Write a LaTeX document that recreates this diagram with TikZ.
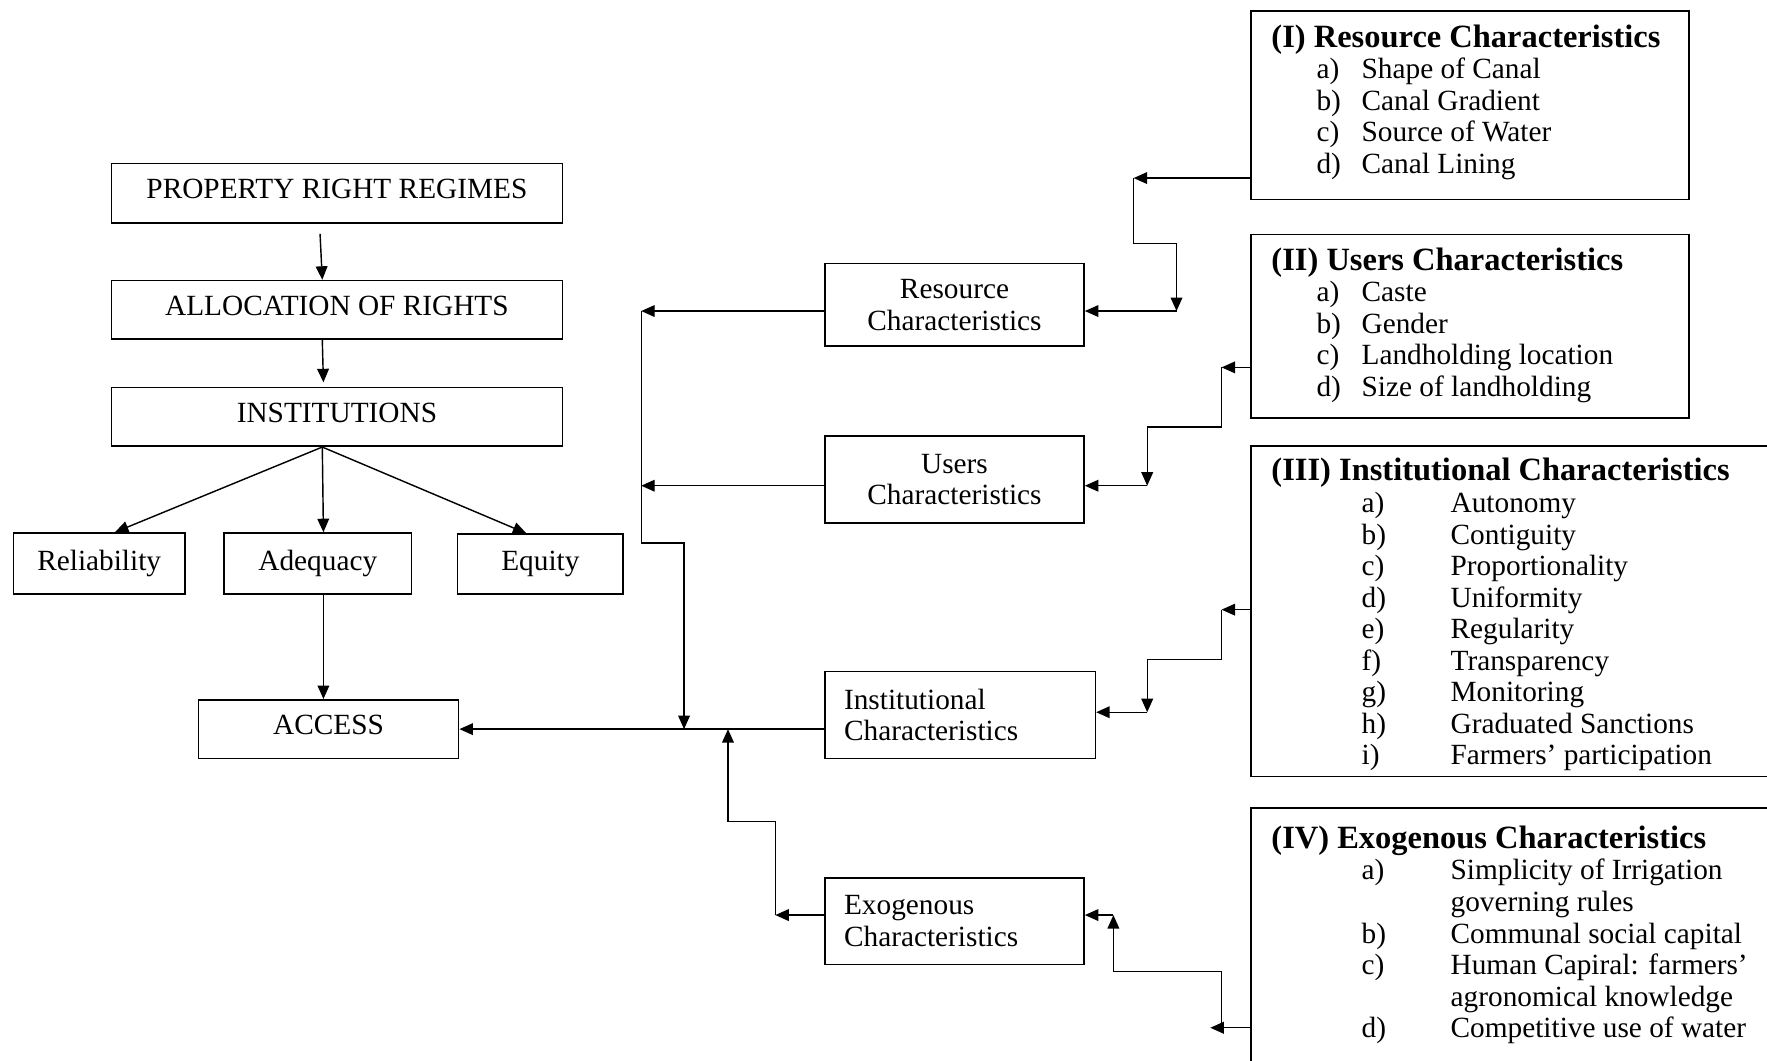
\documentclass[tikz,border=0pt]{standalone}
\usepackage{fontspec}
\setmainfont{Liberation Serif}
\usepackage{tikz}
\usetikzlibrary{arrows.meta}

\newcommand{\boxfont}{\fontsize{18.5}{19.92}\selectfont}
\newcommand{\headfont}{\fontsize{20.5}{19.92}\selectfont\bfseries}

\begin{document}
\begin{tikzpicture}[
    box/.style={rectangle, draw, line width=1pt, inner sep=0pt,
                font=\boxfont, align=center},
    capbox/.style={box, text depth=0.2cm},
    leftbox/.style={box, align=left, inner xsep=0.425cm},
    listbox/.style={rectangle, draw, line width=1pt, inner sep=0pt},
    listtext/.style={inner sep=0pt, anchor=base west, font=\boxfont},
    arrow/.style={-{Triangle[length=0.3cm, width=0.26cm]}, line width=0.9pt},
]
\useasboundingbox (0,0) rectangle (39.2,-23.525);
\clip (0,0) rectangle (39.2,-23.525);

% ============== left column ==============
\node[capbox, minimum width=10cm, minimum height=1.325cm] (prr) at (7.475,-4.2875) {PROPERTY RIGHT REGIMES};
\node[capbox, minimum width=10cm, minimum height=1.3cm] (alloc) at (7.475,-6.875) {ALLOCATION OF RIGHTS};
\node[capbox, minimum width=10cm, minimum height=1.3cm] (inst) at (7.475,-9.25) {INSTITUTIONS};
\node[box, minimum width=3.8cm, minimum height=1.35cm] (rel) at (2.2,-12.5) {Reliability};
\node[box, minimum width=4.15cm, minimum height=1.35cm] (adeq) at (7.05,-12.5) {Adequacy};
\node[box, minimum width=3.675cm, minimum height=1.325cm] (eqt) at (11.9875,-12.5125) {Equity};
\node[capbox, minimum width=5.775cm, minimum height=1.3cm] (acc) at (7.2875,-16.175) {ACCESS};

\draw[arrow] ([xshift=-0.375cm, yshift=-0.22cm]prr.south) -- ([xshift=-0.325cm]alloc.north);
\draw[arrow] ([xshift=-0.325cm]alloc.south) -- ([xshift=-0.3cm, yshift=0.1cm]inst.north);
\draw[arrow] ([xshift=-0.325cm]inst.south) -- ([xshift=0.35cm]rel.north);
\draw[arrow] ([xshift=-0.325cm]inst.south) -- ([xshift=0.125cm]adeq.north);
\draw[arrow] ([xshift=-0.325cm]inst.south) -- ([xshift=-0.31cm]eqt.north);
\draw[arrow] ([xshift=0.125cm]adeq.south) -- ([xshift=0.125cm]adeq.south |- acc.north);

% ============== middle column ==============
\node[box, minimum width=5.75cm, minimum height=1.825cm] (rcs) at (21.175,-6.7625) {Resource\\Characteristics};
\node[box, minimum width=5.75cm, minimum height=1.925cm] (ucs) at (21.175,-10.6375) {Users\\Characteristics};
\node[leftbox, text width=5.15cm, minimum width=6cm, minimum height=1.925cm] (ics) at (21.3,-15.8625) {Institutional\\Characteristics};
\node[leftbox, text width=4.9cm, minimum width=5.75cm, minimum height=1.925cm] (ecs) at (21.175,-20.4375) {Exogenous\\Characteristics};

% bus towards ACCESS
\coordinate (busR) at (14.225,-6.9);
\coordinate (busU) at (14.225,-10.775);
\coordinate (busK) at (15.175,-12.05);
\coordinate (exoA) at (17.2,-20.3);
\coordinate (exoB) at (16.15,-18.225);

\draw[arrow] (ics.west |- acc.east) -- (acc.east);
\draw[arrow] (rcs.west |- busR) -- (busR);
\draw[arrow] (ucs.west |- busU) -- (busU);
\draw[arrow] (busR) |- (busK) -- (busK |- acc.east);
\draw[arrow] (ecs.west |- exoA) -- (exoA);
\draw[arrow] (exoA) |- (exoB) -- (exoB |- acc.east);

% ============== right column ==============
\node[listbox, minimum width=9.725cm, minimum height=4.175cm] (rlist) at (32.6125,-2.3375) {};
\node[listbox, minimum width=9.725cm, minimum height=4.075cm] (ulist) at (32.6125,-7.2375) {};
\node[listbox, minimum width=13cm, minimum height=7.325cm] (ilist) at (34.25,-13.5625) {};
\node[listbox, minimum width=13cm, minimum height=7.075cm] (elist) at (34.25,-21.4625) {};

\node[listtext] (rtext) at (28.2,-1.045) {\begin{tabular}[t]{@{}p{1cm}@{}p{1cm}@{}l}
    \multicolumn{3}{@{}l}{\headfont (I) Resource Characteristics}\\
    & a) & Shape of Canal\\
    & b) & Canal Gradient\\
    & c) & Source of Water\\
    & d) & Canal Lining
  \end{tabular}};
\node[listtext] (utext) at (28.2,-5.995) {\begin{tabular}[t]{@{}p{1cm}@{}p{1cm}@{}l}
    \multicolumn{3}{@{}l}{\headfont (II) Users Characteristics}\\
    & a) & Caste\\
    & b) & Gender\\
    & c) & Landholding location\\
    & d) & Size of landholding
  \end{tabular}};
\node[listtext] (itext) at (28.2,-10.67) {\begin{tabular}[t]{@{}p{2cm}@{}p{1.975cm}@{}l}
    \multicolumn{3}{@{}l}{\headfont (III) Institutional Characteristics}\\
    & a) & Autonomy\\
    & b) & Contiguity\\
    & c) & Proportionality\\
    & d) & Uniformity\\
    & e) & Regularity\\
    & f) & Transparency\\
    & g) & Monitoring\\
    & h) & Graduated Sanctions\\
    & i) & Farmers’ participation
  \end{tabular}};
\node[listtext] (etext) at (28.2,-18.82) {\begin{tabular}[t]{@{}p{2cm}@{}p{1.975cm}@{}l}
    \multicolumn{3}{@{}l}{\headfont (IV) Exogenous Characteristics}\\
    & a) & Simplicity of Irrigation\\
    &    & governing rules\\
    & b) & Communal social capital\\
    & c) & Human Capiral: farmers’\\
    &    & agronomical knowledge\\
    & d) & Competitive use of water
  \end{tabular}};

% lists into the middle boxes
\coordinate (rA) at (25.15,-3.95);
\coordinate (rB) at (26.1,-5.4);
\coordinate (rC) at (26.1,-6.9);
\draw[arrow] (rlist.west |- rA) -- (rA);
\draw[arrow] (rA) |- (rB) -- (rC);
\draw[arrow] (rC) -- (rcs.east |- rC);

\coordinate (uA) at (27.1,-8.15);
\coordinate (uB) at (25.45,-9.475);
\coordinate (uC) at (25.45,-10.775);
\draw[arrow] (ulist.west |- uA) -- (uA);
\draw[arrow] (uA) |- (uB) -- (uC);
\draw[arrow] (uC) -- (ucs.east |- uC);

\coordinate (iA) at (27.1,-13.525);
\coordinate (iB) at (25.45,-14.625);
\coordinate (iC) at (25.45,-15.8);
\draw[arrow] (ilist.west |- iA) -- (iA);
\draw[arrow] (iA) |- (iB) -- (iC);
\draw[arrow] (iC) -- (ics.east |- iC);

\coordinate (eA) at (26.85,-22.8);
\coordinate (eV) at (27.1,-22.8);
\coordinate (eB) at (24.7,-21.55);
\coordinate (eC) at (24.7,-20.3);
\draw[arrow] (elist.west |- eA) -- (eA);
\draw[arrow] (eV) |- (eB) -- (eC);
\draw[arrow] (eC) -- (ecs.east |- eC);

\end{tikzpicture}
\end{document}
